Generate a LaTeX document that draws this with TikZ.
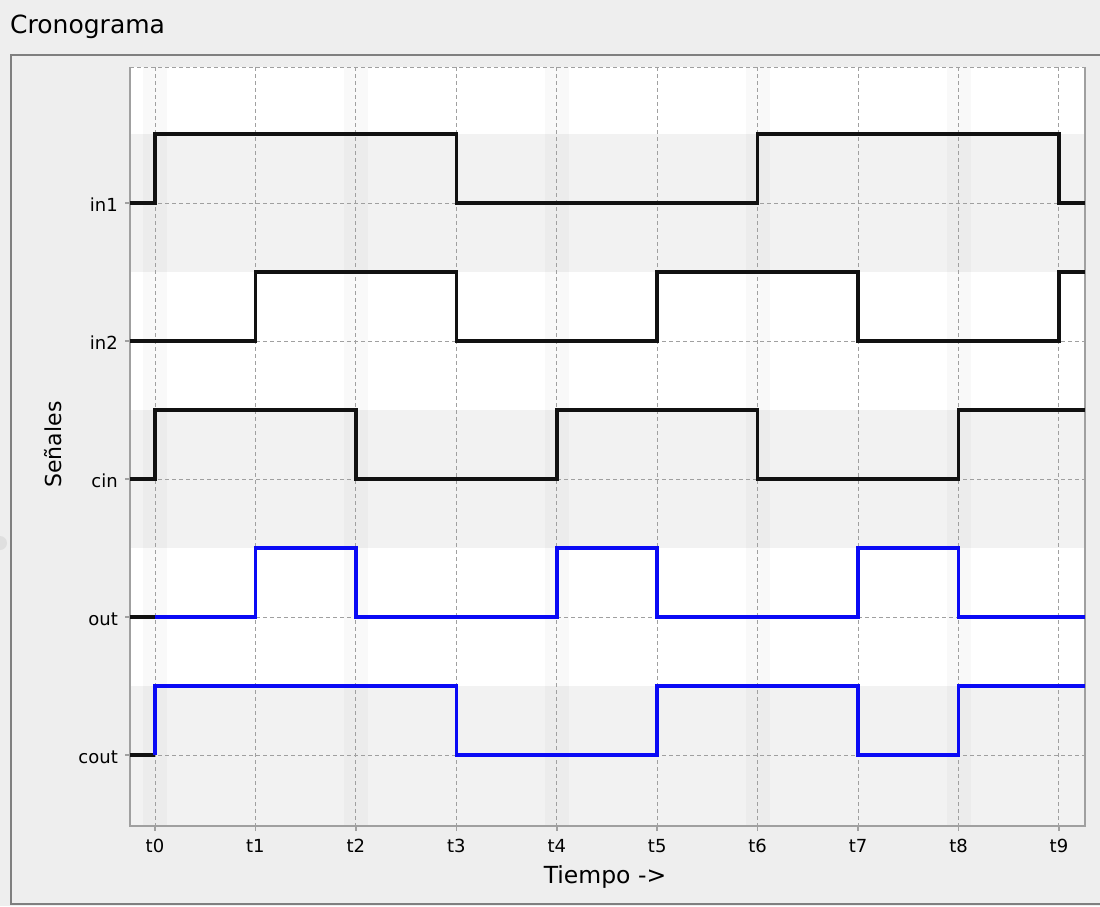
\documentclass[tikz,border=0pt]{standalone}
\usepackage{fontspec}
\setmainfont{DejaVu Sans}
\begin{document}
\begin{tikzpicture}[x=1pt,y=-1pt,
  signal/.style={line width=3.6pt,line join=miter,line cap=butt},
  gridline/.style={draw=gridc,line width=1pt,dash pattern=on 4pt off 3pt},
  axisline/.style={draw=axisc,line width=2pt},
  ticklabel/.style={font=\fontsize{18}{20}\selectfont,anchor=base,inner sep=0pt},
  siglabel/.style={font=\fontsize{18}{20}\selectfont,anchor=base east,inner sep=0pt},
  axtitle/.style={font=\fontsize{23.5}{26}\selectfont,anchor=base,inner sep=0pt}]
\definecolor{bgc}{HTML}{EEEEEE}
\definecolor{bandc}{HTML}{F2F2F2}
\definecolor{gridc}{HTML}{A0A0A0}
\definecolor{axisc}{HTML}{A0A0A0}
\definecolor{panelc}{HTML}{7F7F7F}
\definecolor{sigblue}{HTML}{0A0AF5}
\definecolor{sigblack}{HTML}{111111}
\fill[bgc] (0,0) rectangle (1100,906);
\useasboundingbox (0,0) rectangle (1100,906);
% title
\node[font=\fontsize{25}{29}\selectfont,anchor=base west,inner sep=0pt] (title) at (10,33) {Cronograma};
% panel border
\draw[panelc,line width=2pt] (1102,55) -- (11,55) -- (11,904) -- (1102,904);
% splitter handle
\fill[gray!25] (0,543) circle (7);
% plot background
\fill[white] (130,67) rectangle (1085,826);
\fill[bandc] (130,134) rectangle (1085,272);
\fill[bandc] (130,410) rectangle (1085,548);
\fill[bandc] (130,686) rectangle (1085,826);
% vertical shading at even times
\foreach \x in {155,355.88,556.76,757.64,958.52}
  \fill[black,opacity=0.022] (\x-12,67) rectangle (\x+12,826);
% grid
\foreach \x in {155,255.44,355.88,456.32,556.76,657.2,757.64,858.08,958.52,1058.96}
  \draw[gridline] (\x,67) -- (\x,826);
\foreach \y in {67,203,341,479,617,755}
  \draw[gridline] (130,\y) -- (1085,\y);
% axes
\draw[axisline] (130,67) -- (130,826) -- (1085,826) -- (1085,67);
\foreach \y in {203,341,479,617,755}
  \draw[axisc,line width=1.5pt] (125,\y) -- (130,\y);
\foreach \x in {155,255.44,355.88,456.32,556.76,657.2,757.64,858.08,958.52,1058.96}
  \draw[axisc,line width=1.5pt] (\x,826) -- (\x,831);
% signals
\draw[signal,sigblack] (130,203) -- (155,203) -- (155,134) -- (456.32,134) -- (456.32,203) -- (757.64,203) -- (757.64,134) -- (1058.96,134) -- (1058.96,203) -- (1085,203);
\draw[signal,sigblack] (130,341) -- (255.44,341) -- (255.44,272) -- (456.32,272) -- (456.32,341) -- (657.2,341) -- (657.2,272) -- (858.08,272) -- (858.08,341) -- (1058.96,341) -- (1058.96,272) -- (1085,272);
\draw[signal,sigblack] (130,479) -- (155,479) -- (155,410) -- (355.88,410) -- (355.88,479) -- (556.76,479) -- (556.76,410) -- (757.64,410) -- (757.64,479) -- (958.52,479) -- (958.52,410) -- (1085,410);
\draw[signal,sigblack] (130,617) -- (155,617);
\draw[signal,sigblue] (155,617) -- (255.44,617) -- (255.44,548) -- (355.88,548) -- (355.88,617) -- (556.76,617) -- (556.76,548) -- (657.2,548) -- (657.2,617) -- (858.08,617) -- (858.08,548) -- (958.52,548) -- (958.52,617) -- (1085,617);
\draw[signal,sigblack] (130,755) -- (155,755);
\draw[signal,sigblue] (155,755) -- (155,686) -- (456.32,686) -- (456.32,755) -- (657.2,755) -- (657.2,686) -- (858.08,686) -- (858.08,755) -- (958.52,755) -- (958.52,686) -- (1085,686);
% signal labels
\node[siglabel] (lin1) at (118,211) {in1};
\node[siglabel] (lin2) at (118,349) {in2};
\node[siglabel] (lcin) at (118,487) {cin};
\node[siglabel] (lout) at (118,625) {out};
\node[siglabel] (lcout) at (118,763) {cout};
% time labels
\foreach \x/\t in {155/t0,255.44/t1,355.88/t2,456.32/t3,556.76/t4,657.2/t5,757.64/t6,858.08/t7,958.52/t8,1058.96/t9}
  \node[ticklabel] (lab\t) at (\x,852) {\t};
% axis titles
\node[axtitle] (xtitle) at (605,883) {Tiempo ->};
\node[axtitle,font=\fontsize{22}{24}\selectfont,rotate=90] (ytitle) at (61,444.5) {Señales};
\end{tikzpicture}
\end{document}
